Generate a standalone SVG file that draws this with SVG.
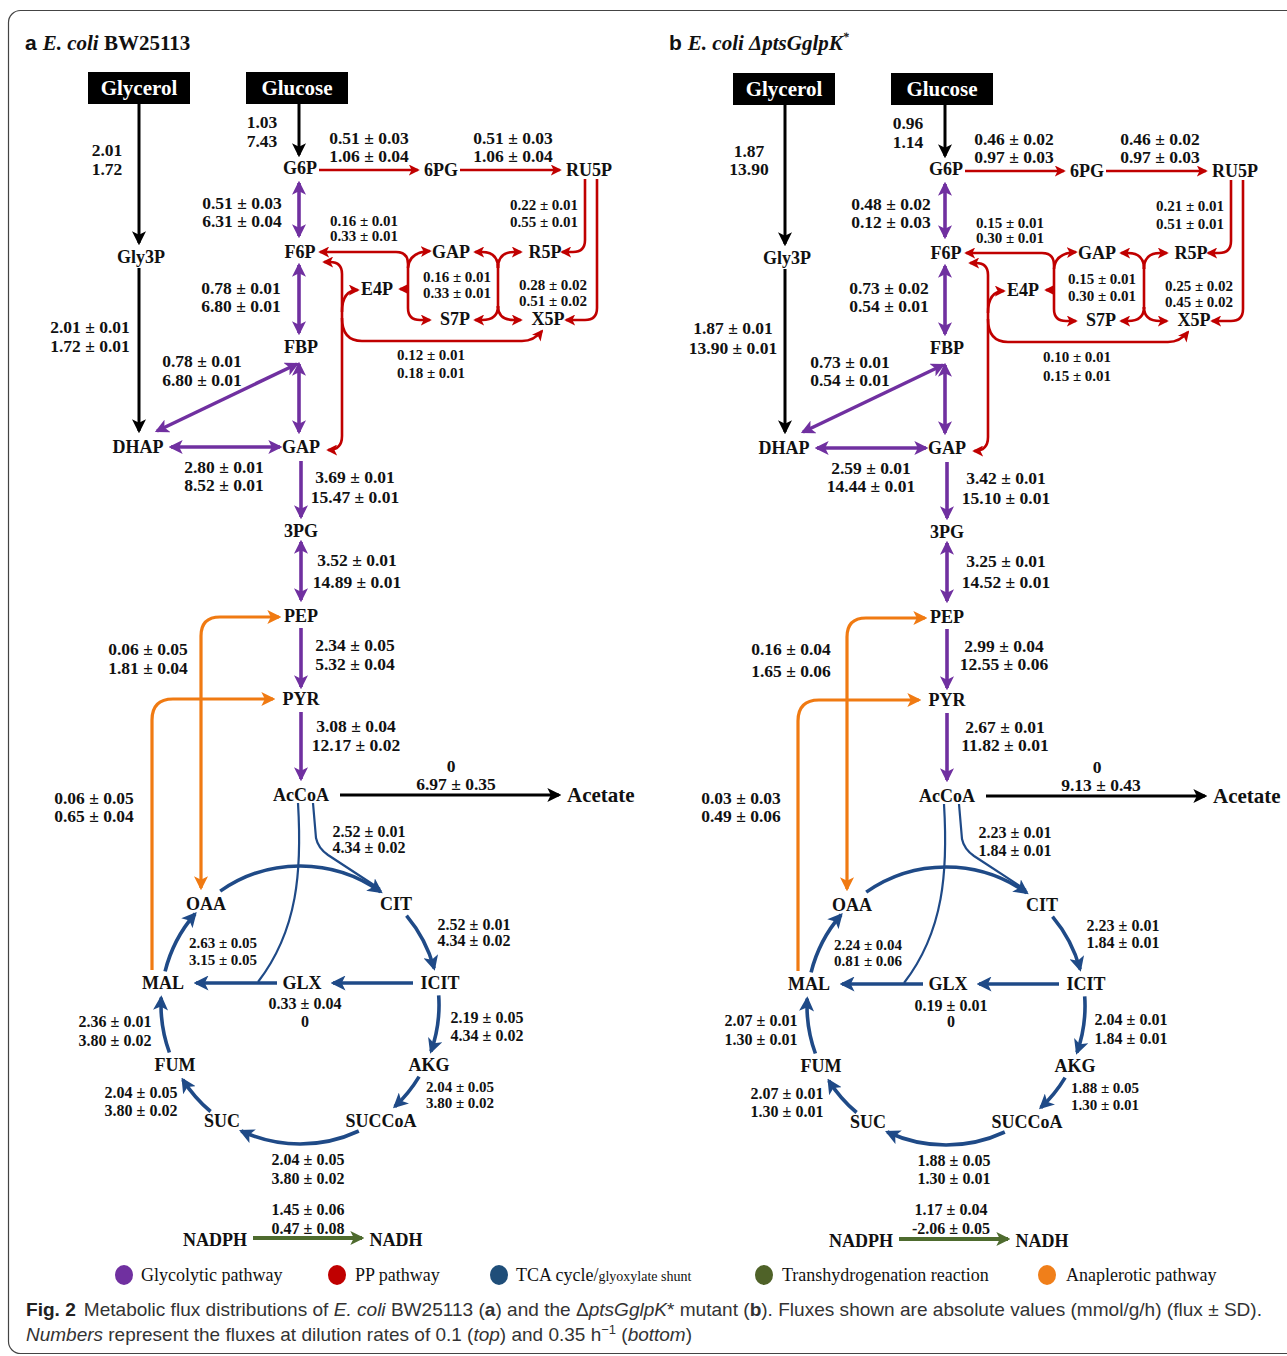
<svg xmlns="http://www.w3.org/2000/svg" width="1287" height="1356" viewBox="0 0 1287 1356">
<style>
text{font-family:"Liberation Serif","Times New Roman",serif;font-weight:bold;fill:#111}
.n{font-size:18px;text-anchor:middle}
.f{font-size:17.5px;text-anchor:middle}
.m{font-size:16px;text-anchor:middle}
.s{font-size:15px;text-anchor:middle}
.big{font-size:21px}
.box{fill:#000}
.bt0{fill:#fff;font-size:21px;text-anchor:middle}
.k,.r,.p,.o,.bl,.bt,.g{fill:none}
.k{stroke:#000;stroke-width:3}
.k.e{marker-end:url(#mk)}
.r{stroke:#C00000;stroke-width:2.6}
.r.e{marker-end:url(#mr)}
.r.b{marker-start:url(#mr);marker-end:url(#mr)}
.p{stroke:#7030A0;stroke-width:3.6}
.p.e{marker-end:url(#mp)}
.p.b{marker-start:url(#mp);marker-end:url(#mp)}
.o{stroke:#F07A12;stroke-width:3.2}
.o.e{marker-end:url(#mo)}
.o.b{marker-start:url(#mo);marker-end:url(#mo)}
.bl{stroke:#1F4A87;stroke-width:3.6}
.bl.e{marker-end:url(#mb)}
.bt{stroke:#1F4A87;stroke-width:2.2}
.g{stroke:#4E6B2E;stroke-width:4;marker-end:url(#mg)}
.leg{font-family:"Liberation Serif","Times New Roman",serif;font-weight:normal;font-size:18px;fill:#111}
.cap{font-family:"Liberation Sans",Arial,sans-serif;font-weight:normal;font-size:19px;fill:#333}
</style>
<defs>
<marker id="mk" viewBox="0 0 12 12" markerUnits="userSpaceOnUse" markerWidth="14" markerHeight="14" refX="10" refY="6" orient="auto-start-reverse"><path d="M0,0 L12,6 L0,12 L3,6 Z" fill="#000"/></marker>
<marker id="mr" viewBox="0 0 12 12" markerUnits="userSpaceOnUse" markerWidth="11" markerHeight="11" refX="10" refY="6" orient="auto-start-reverse"><path d="M0,0 L12,6 L0,12 L3,6 Z" fill="#C00000"/></marker>
<marker id="mp" viewBox="0 0 12 12" markerUnits="userSpaceOnUse" markerWidth="14" markerHeight="14" refX="10" refY="6" orient="auto-start-reverse"><path d="M0,0 L12,6 L0,12 L3,6 Z" fill="#7030A0"/></marker>
<marker id="mo" viewBox="0 0 12 12" markerUnits="userSpaceOnUse" markerWidth="14" markerHeight="14" refX="10" refY="6" orient="auto-start-reverse"><path d="M0,0 L12,6 L0,12 L3,6 Z" fill="#F07A12"/></marker>
<marker id="mb" viewBox="0 0 12 12" markerUnits="userSpaceOnUse" markerWidth="15" markerHeight="15" refX="10" refY="6" orient="auto-start-reverse"><path d="M0,0 L12,6 L0,12 L3,6 Z" fill="#1F4A87"/></marker>
<marker id="mg" viewBox="0 0 12 12" markerUnits="userSpaceOnUse" markerWidth="14" markerHeight="14" refX="10" refY="6" orient="auto-start-reverse"><path d="M0,0 L12,6 L0,12 L3,6 Z" fill="#4E6B2E"/></marker>
</defs>
<rect x="8.5" y="10.5" width="1295" height="1343" rx="12" fill="#fff" stroke="#444" stroke-width="1.2"/>

<!-- ================= PANEL A ================= -->
<g id="panel-a">
<text x="25" y="50" class="big"><tspan font-family="Liberation Sans,Arial,sans-serif">a</tspan><tspan font-style="italic" dx="6">E. coli</tspan> BW25113</text>
<g id="a-connectors">
<path class="k e" d="M139,104 V243"/>
<path class="k e" d="M139,268 V431"/>
<path class="k e" d="M299,104 V155"/>
<path class="k e" d="M340,795 H559"/>
<path class="r e" d="M319,170 H418"/>
<path class="r e" d="M460,170 H560"/>
<path class="r e" d="M585,179 V240 Q585,252 573,252 H562"/>
<path class="r e" d="M597,179 V308 Q597,320 585,320 H566"/>
<path class="r b" d="M320,252 H396 Q408,252 408,264 V308 Q408,320 420,320 H430"/>
<path class="r e" d="M408,268 Q409,252 430,251"/>
<path class="r e" d="M408,289 H400"/>
<path class="r" d="M498,264 V308"/>
<path class="r e" d="M498,268 Q498,252 482,252 H475"/>
<path class="r e" d="M498,268 Q498,252 514,252 H521"/>
<path class="r e" d="M498,306 Q498,320 482,320 H475"/>
<path class="r e" d="M498,306 Q498,320 514,320 H521"/>
<path class="r b" d="M324,262 H330 Q342,262 342,274 V436 Q342,450 328,450"/>
<path class="r e" d="M342,312 Q342,290 358,290"/>
<path class="r e" d="M342,318 Q342,341 362,341 H522 Q534,341 542,331"/>
<path class="p b" d="M299,183 V236"/>
<path class="p b" d="M299,265 V333"/>
<path class="p b" d="M299,364 V432"/>
<path class="p b" d="M157,431 L297,364"/>
<path class="p b" d="M171,447 H280"/>
<path class="p e" d="M301,461 V517"/>
<path class="p b" d="M301,542 V600"/>
<path class="p e" d="M301,628 V687"/>
<path class="p e" d="M301,712 V779"/>
<path class="o b" d="M279,617 H220 Q201,617 201,636 V888"/>
<path class="o e" d="M152,970 V720 Q152,699 173,699 H273"/>
<path class="bl e" d="M220.2,891.1 A139,139 0 0 1 380.7,891.8"/>
<path class="bl e" d="M406.5,915.7 A139,139 0 0 1 434.1,968.3"/>
<path class="bl e" d="M438.7,995.3 A139,139 0 0 1 431,1051.4"/>
<path class="bl e" d="M419.1,1076.6 A139,139 0 0 1 394.8,1106.6"/>
<path class="bl e" d="M358.8,1131 A139,139 0 0 1 241.3,1131"/>
<path class="bl e" d="M210.6,1111.5 A139,139 0 0 1 182.8,1079.7"/>
<path class="bl e" d="M169.4,1052.5 A139,139 0 0 1 161.2,997.7"/>
<path class="bl e" d="M165.1,971.4 A139,139 0 0 1 195.1,913.8"/>
<path class="bl e" d="M413,983 H333"/>
<path class="bl e" d="M277,983 H196"/>
<path class="bt" d="M298,803 C302,870 298,930 258,982"/>
<path class="bt" d="M313,803 L316,838 Q318,848 328,855 L380,889"/>
<path class="g" d="M253,1238 H362"/>
</g>
<g id="a-nodes">
<g id="a-glycerol"><rect class="box" x="88" y="72" width="102" height="32"/><text class="bt0" x="139" y="95">Glycerol</text></g>
<g id="a-glucose"><rect class="box" x="246" y="72" width="102" height="32"/><text class="bt0" x="297" y="95">Glucose</text></g>
<g id="a-gly3p"><text class="n" x="141" y="263">Gly3P</text></g>
<g id="a-dhap"><text class="n" x="138" y="453">DHAP</text></g>
<g id="a-g6p"><text class="n" x="300" y="174">G6P</text></g>
<g id="a-6pg"><text class="n" x="441" y="176">6PG</text></g>
<g id="a-ru5p"><text class="n" x="589" y="176">RU5P</text></g>
<g id="a-f6p"><text class="n" x="300" y="258">F6P</text></g>
<g id="a-gap-pp"><text class="n" x="451" y="258">GAP</text></g>
<g id="a-r5p"><text class="n" x="545" y="258">R5P</text></g>
<g id="a-e4p"><text class="n" x="377" y="295">E4P</text></g>
<g id="a-s7p"><text class="n" x="455" y="325">S7P</text></g>
<g id="a-x5p"><text class="n" x="548" y="325">X5P</text></g>
<g id="a-fbp"><text class="n" x="301" y="353">FBP</text></g>
<g id="a-gap"><text class="n" x="301" y="453">GAP</text></g>
<g id="a-3pg"><text class="n" x="301" y="537">3PG</text></g>
<g id="a-pep"><text class="n" x="301" y="622">PEP</text></g>
<g id="a-pyr"><text class="n" x="301" y="705">PYR</text></g>
<g id="a-accoa"><text class="n" x="301" y="801">AcCoA</text></g>
<g id="a-acetate"><text class="big" x="567" y="802">Acetate</text></g>
<g id="a-oaa"><text class="n" x="206" y="910">OAA</text></g>
<g id="a-cit"><text class="n" x="396" y="910">CIT</text></g>
<g id="a-icit"><text class="n" x="440" y="989">ICIT</text></g>
<g id="a-glx"><text class="n" x="302" y="989">GLX</text></g>
<g id="a-mal"><text class="n" x="163" y="989">MAL</text></g>
<g id="a-akg"><text class="n" x="429" y="1071">AKG</text></g>
<g id="a-succoa"><text class="n" x="381" y="1127">SUCCoA</text></g>
<g id="a-suc"><text class="n" x="222" y="1127">SUC</text></g>
<g id="a-fum"><text class="n" x="175" y="1071">FUM</text></g>
<g id="a-nadph"><text class="n" x="215" y="1246">NADPH</text></g>
<g id="a-nadh"><text class="n" x="396" y="1246">NADH</text></g>
</g>
<g id="a-labels">
<text class="f" x="262" y="128">1.03</text><text class="f" x="262" y="147">7.43</text>
<text class="f" x="107" y="156">2.01</text><text class="f" x="107" y="175">1.72</text>
<text class="f" x="369" y="144">0.51 ± 0.03</text><text class="f" x="369" y="162">1.06 ± 0.04</text>
<text class="f" x="513" y="144">0.51 ± 0.03</text><text class="f" x="513" y="162">1.06 ± 0.04</text>
<text class="f" x="242" y="209">0.51 ± 0.03</text><text class="f" x="242" y="227">6.31 ± 0.04</text>
<text class="s" x="364" y="226">0.16 ± 0.01</text><text class="s" x="364" y="241">0.33 ± 0.01</text>
<text class="s" x="544" y="210">0.22 ± 0.01</text><text class="s" x="544" y="227">0.55 ± 0.01</text>
<text class="f" x="241" y="294">0.78 ± 0.01</text><text class="f" x="241" y="312">6.80 ± 0.01</text>
<text class="s" x="457" y="282">0.16 ± 0.01</text><text class="s" x="457" y="298">0.33 ± 0.01</text>
<text class="s" x="553" y="290">0.28 ± 0.02</text><text class="s" x="553" y="306">0.51 ± 0.02</text>
<text class="f" x="90" y="333">2.01 ± 0.01</text><text class="f" x="90" y="352">1.72 ± 0.01</text>
<text class="s" x="431" y="360">0.12 ± 0.01</text><text class="s" x="431" y="378">0.18 ± 0.01</text>
<text class="f" x="202" y="367">0.78 ± 0.01</text><text class="f" x="202" y="386">6.80 ± 0.01</text>
<text class="f" x="224" y="473">2.80 ± 0.01</text><text class="f" x="224" y="491">8.52 ± 0.01</text>
<text class="f" x="355" y="483">3.69 ± 0.01</text><text class="f" x="355" y="503">15.47 ± 0.01</text>
<text class="f" x="357" y="566">3.52 ± 0.01</text><text class="f" x="357" y="588">14.89 ± 0.01</text>
<text class="f" x="355" y="651">2.34 ± 0.05</text><text class="f" x="355" y="670">5.32 ± 0.04</text>
<text class="f" x="356" y="732">3.08 ± 0.04</text><text class="f" x="356" y="751">12.17 ± 0.02</text>
<text class="f" x="451" y="772">0</text><text class="f" x="456" y="790">6.97 ± 0.35</text>
<text class="f" x="148" y="655">0.06 ± 0.05</text><text class="f" x="148" y="674">1.81 ± 0.04</text>
<text class="f" x="94" y="804">0.06 ± 0.05</text><text class="f" x="94" y="822">0.65 ± 0.04</text>
<text class="m" x="369" y="837">2.52 ± 0.01</text><text class="m" x="369" y="853">4.34 ± 0.02</text>
<text class="m" x="474" y="930">2.52 ± 0.01</text><text class="m" x="474" y="946">4.34 ± 0.02</text>
<text class="s" x="223" y="948">2.63 ± 0.05</text><text class="s" x="223" y="965">3.15 ± 0.05</text>
<text class="m" x="305" y="1009">0.33 ± 0.04</text><text class="m" x="305" y="1027">0</text>
<text class="m" x="487" y="1023">2.19 ± 0.05</text><text class="m" x="487" y="1041">4.34 ± 0.02</text>
<text class="m" x="115" y="1027">2.36 ± 0.01</text><text class="m" x="115" y="1046">3.80 ± 0.02</text>
<text class="s" x="460" y="1092">2.04 ± 0.05</text><text class="s" x="460" y="1108">3.80 ± 0.02</text>
<text class="m" x="141" y="1098">2.04 ± 0.05</text><text class="m" x="141" y="1116">3.80 ± 0.02</text>
<text class="m" x="308" y="1165">2.04 ± 0.05</text><text class="m" x="308" y="1184">3.80 ± 0.02</text>
<text class="m" x="308" y="1215">1.45 ± 0.06</text><text class="m" x="308" y="1234">0.47 ± 0.08</text>
</g>
</g>

<!-- ================= PANEL B ================= -->
<g id="panel-b" transform="translate(646,1)">
<text x="23" y="49" class="big"><tspan font-family="Liberation Sans,Arial,sans-serif">b</tspan><tspan font-style="italic" dx="6">E. coli ΔptsGglpK</tspan><tspan font-size="12" dy="-9" font-style="italic">*</tspan></text>
<g id="b-connectors">
<path class="k e" d="M139,104 V243"/>
<path class="k e" d="M139,268 V431"/>
<path class="k e" d="M299,104 V155"/>
<path class="k e" d="M340,795 H559"/>
<path class="r e" d="M319,170 H418"/>
<path class="r e" d="M460,170 H560"/>
<path class="r e" d="M585,179 V240 Q585,252 573,252 H562"/>
<path class="r e" d="M597,179 V308 Q597,320 585,320 H566"/>
<path class="r b" d="M320,252 H396 Q408,252 408,264 V308 Q408,320 420,320 H430"/>
<path class="r e" d="M408,268 Q409,252 430,251"/>
<path class="r e" d="M408,289 H400"/>
<path class="r" d="M498,264 V308"/>
<path class="r e" d="M498,268 Q498,252 482,252 H475"/>
<path class="r e" d="M498,268 Q498,252 514,252 H521"/>
<path class="r e" d="M498,306 Q498,320 482,320 H475"/>
<path class="r e" d="M498,306 Q498,320 514,320 H521"/>
<path class="r b" d="M324,262 H330 Q342,262 342,274 V436 Q342,450 328,450"/>
<path class="r e" d="M342,312 Q342,290 358,290"/>
<path class="r e" d="M342,318 Q342,341 362,341 H522 Q534,341 542,331"/>
<path class="p b" d="M299,183 V236"/>
<path class="p b" d="M299,265 V333"/>
<path class="p b" d="M299,364 V432"/>
<path class="p b" d="M157,431 L297,364"/>
<path class="p b" d="M171,447 H280"/>
<path class="p e" d="M301,461 V517"/>
<path class="p b" d="M301,542 V600"/>
<path class="p e" d="M301,628 V687"/>
<path class="p e" d="M301,712 V779"/>
<path class="o b" d="M279,617 H220 Q201,617 201,636 V888"/>
<path class="o e" d="M152,970 V720 Q152,699 173,699 H273"/>
<path class="bl e" d="M220.2,891.1 A139,139 0 0 1 380.7,891.8"/>
<path class="bl e" d="M406.5,915.7 A139,139 0 0 1 434.1,968.3"/>
<path class="bl e" d="M438.7,995.3 A139,139 0 0 1 431,1051.4"/>
<path class="bl e" d="M419.1,1076.6 A139,139 0 0 1 394.8,1106.6"/>
<path class="bl e" d="M358.8,1131 A139,139 0 0 1 241.3,1131"/>
<path class="bl e" d="M210.6,1111.5 A139,139 0 0 1 182.8,1079.7"/>
<path class="bl e" d="M169.4,1052.5 A139,139 0 0 1 161.2,997.7"/>
<path class="bl e" d="M165.1,971.4 A139,139 0 0 1 195.1,913.8"/>
<path class="bl e" d="M413,983 H333"/>
<path class="bl e" d="M277,983 H196"/>
<path class="bt" d="M298,803 C302,870 298,930 258,982"/>
<path class="bt" d="M313,803 L316,838 Q318,848 328,855 L380,889"/>
<path class="g" d="M253,1238 H362"/>
</g>
<g id="b-nodes">
<g id="b-glycerol"><rect class="box" x="87" y="72" width="102" height="32"/><text class="bt0" x="138" y="95">Glycerol</text></g>
<g id="b-glucose"><rect class="box" x="245" y="72" width="102" height="32"/><text class="bt0" x="296" y="95">Glucose</text></g>
<g id="b-gly3p"><text class="n" x="141" y="263">Gly3P</text></g>
<g id="b-dhap"><text class="n" x="138" y="453">DHAP</text></g>
<g id="b-g6p"><text class="n" x="300" y="174">G6P</text></g>
<g id="b-6pg"><text class="n" x="441" y="176">6PG</text></g>
<g id="b-ru5p"><text class="n" x="589" y="176">RU5P</text></g>
<g id="b-f6p"><text class="n" x="300" y="258">F6P</text></g>
<g id="b-gap-pp"><text class="n" x="451" y="258">GAP</text></g>
<g id="b-r5p"><text class="n" x="545" y="258">R5P</text></g>
<g id="b-e4p"><text class="n" x="377" y="295">E4P</text></g>
<g id="b-s7p"><text class="n" x="455" y="325">S7P</text></g>
<g id="b-x5p"><text class="n" x="548" y="325">X5P</text></g>
<g id="b-fbp"><text class="n" x="301" y="353">FBP</text></g>
<g id="b-gap"><text class="n" x="301" y="453">GAP</text></g>
<g id="b-3pg"><text class="n" x="301" y="537">3PG</text></g>
<g id="b-pep"><text class="n" x="301" y="622">PEP</text></g>
<g id="b-pyr"><text class="n" x="301" y="705">PYR</text></g>
<g id="b-accoa"><text class="n" x="301" y="801">AcCoA</text></g>
<g id="b-acetate"><text class="big" x="567" y="802">Acetate</text></g>
<g id="b-oaa"><text class="n" x="206" y="910">OAA</text></g>
<g id="b-cit"><text class="n" x="396" y="910">CIT</text></g>
<g id="b-icit"><text class="n" x="440" y="989">ICIT</text></g>
<g id="b-glx"><text class="n" x="302" y="989">GLX</text></g>
<g id="b-mal"><text class="n" x="163" y="989">MAL</text></g>
<g id="b-akg"><text class="n" x="429" y="1071">AKG</text></g>
<g id="b-succoa"><text class="n" x="381" y="1127">SUCCoA</text></g>
<g id="b-suc"><text class="n" x="222" y="1127">SUC</text></g>
<g id="b-fum"><text class="n" x="175" y="1071">FUM</text></g>
<g id="b-nadph"><text class="n" x="215" y="1246">NADPH</text></g>
<g id="b-nadh"><text class="n" x="396" y="1246">NADH</text></g>
</g>
<g id="b-labels">
<text class="f" x="262" y="128">0.96</text><text class="f" x="262" y="147">1.14</text>
<text class="f" x="103" y="156">1.87</text><text class="f" x="103" y="174">13.90</text>
<text class="f" x="368" y="144">0.46 ± 0.02</text><text class="f" x="368" y="162">0.97 ± 0.03</text>
<text class="f" x="514" y="144">0.46 ± 0.02</text><text class="f" x="514" y="162">0.97 ± 0.03</text>
<text class="f" x="245" y="209">0.48 ± 0.02</text><text class="f" x="245" y="227">0.12 ± 0.03</text>
<text class="s" x="364" y="227">0.15 ± 0.01</text><text class="s" x="364" y="242">0.30 ± 0.01</text>
<text class="s" x="544" y="210">0.21 ± 0.01</text><text class="s" x="544" y="228">0.51 ± 0.01</text>
<text class="f" x="243" y="293">0.73 ± 0.02</text><text class="f" x="243" y="311">0.54 ± 0.01</text>
<text class="s" x="456" y="283">0.15 ± 0.01</text><text class="s" x="456" y="300">0.30 ± 0.01</text>
<text class="s" x="553" y="290">0.25 ± 0.02</text><text class="s" x="553" y="306">0.45 ± 0.02</text>
<text class="f" x="87" y="333">1.87 ± 0.01</text><text class="f" x="87" y="353">13.90 ± 0.01</text>
<text class="s" x="431" y="361">0.10 ± 0.01</text><text class="s" x="431" y="380">0.15 ± 0.01</text>
<text class="f" x="204" y="367">0.73 ± 0.01</text><text class="f" x="204" y="385">0.54 ± 0.01</text>
<text class="f" x="225" y="473">2.59 ± 0.01</text><text class="f" x="225" y="491">14.44 ± 0.01</text>
<text class="f" x="360" y="483">3.42 ± 0.01</text><text class="f" x="360" y="503">15.10 ± 0.01</text>
<text class="f" x="360" y="566">3.25 ± 0.01</text><text class="f" x="360" y="587">14.52 ± 0.01</text>
<text class="f" x="358" y="651">2.99 ± 0.04</text><text class="f" x="358" y="669">12.55 ± 0.06</text>
<text class="f" x="359" y="732">2.67 ± 0.01</text><text class="f" x="359" y="750">11.82 ± 0.01</text>
<text class="f" x="451" y="772">0</text><text class="f" x="455" y="790">9.13 ± 0.43</text>
<text class="f" x="145" y="654">0.16 ± 0.04</text><text class="f" x="145" y="676">1.65 ± 0.06</text>
<text class="f" x="95" y="803">0.03 ± 0.03</text><text class="f" x="95" y="821">0.49 ± 0.06</text>
<text class="m" x="369" y="837">2.23 ± 0.01</text><text class="m" x="369" y="855">1.84 ± 0.01</text>
<text class="m" x="477" y="930">2.23 ± 0.01</text><text class="m" x="477" y="947">1.84 ± 0.01</text>
<text class="s" x="222" y="949">2.24 ± 0.04</text><text class="s" x="222" y="965">0.81 ± 0.06</text>
<text class="m" x="305" y="1010">0.19 ± 0.01</text><text class="m" x="305" y="1026">0</text>
<text class="m" x="485" y="1024">2.04 ± 0.01</text><text class="m" x="485" y="1043">1.84 ± 0.01</text>
<text class="m" x="115" y="1025">2.07 ± 0.01</text><text class="m" x="115" y="1044">1.30 ± 0.01</text>
<text class="s" x="459" y="1092">1.88 ± 0.05</text><text class="s" x="459" y="1109">1.30 ± 0.01</text>
<text class="m" x="141" y="1098">2.07 ± 0.01</text><text class="m" x="141" y="1116">1.30 ± 0.01</text>
<text class="m" x="308" y="1165">1.88 ± 0.05</text><text class="m" x="308" y="1183">1.30 ± 0.01</text>
<text class="m" x="305" y="1214">1.17 ± 0.04</text><text class="m" x="305" y="1233">-2.06 ± 0.05</text>
</g>
</g>

<!-- ================= LEGEND ================= -->
<g id="legend">
<ellipse cx="124" cy="1275" rx="9" ry="10" fill="#7030A0"/><text class="leg" x="141" y="1281">Glycolytic pathway</text>
<ellipse cx="337" cy="1275" rx="9" ry="10" fill="#C00000"/><text class="leg" x="355" y="1281">PP pathway</text>
<ellipse cx="499" cy="1275" rx="9" ry="10" fill="#1F4E79"/><text class="leg" x="516" y="1281">TCA cycle/<tspan font-size="14">glyoxylate shunt</tspan></text>
<ellipse cx="764" cy="1275" rx="9" ry="10" fill="#4F6228"/><text class="leg" x="782" y="1281">Transhydrogenation reaction</text>
<ellipse cx="1047" cy="1275" rx="9" ry="10" fill="#F07F1A"/><text class="leg" x="1066" y="1281">Anaplerotic pathway</text>
</g>

<!-- ================= CAPTION ================= -->
<g id="caption">
<text class="cap" x="26" y="1316" textLength="1236" lengthAdjust="spacingAndGlyphs"><tspan font-weight="bold" fill="#222">Fig. 2</tspan><tspan dx="8">Metabolic flux distributions of </tspan><tspan font-style="italic">E. coli</tspan> BW25113 (<tspan font-weight="bold">a</tspan>) and the Δ<tspan font-style="italic">ptsGglpK</tspan>* mutant (<tspan font-weight="bold">b</tspan>). Fluxes shown are absolute values (mmol/g/h) (flux ± SD).</text>
<text class="cap" x="26" y="1341" textLength="666" lengthAdjust="spacingAndGlyphs"><tspan font-style="italic">Numbers</tspan> represent the fluxes at dilution rates of 0.1 (<tspan font-style="italic">top</tspan>) and 0.35 h<tspan font-size="13" dy="-7">−1</tspan><tspan dy="7"> (</tspan><tspan font-style="italic">bottom</tspan>)</text>
</g>
</svg>
